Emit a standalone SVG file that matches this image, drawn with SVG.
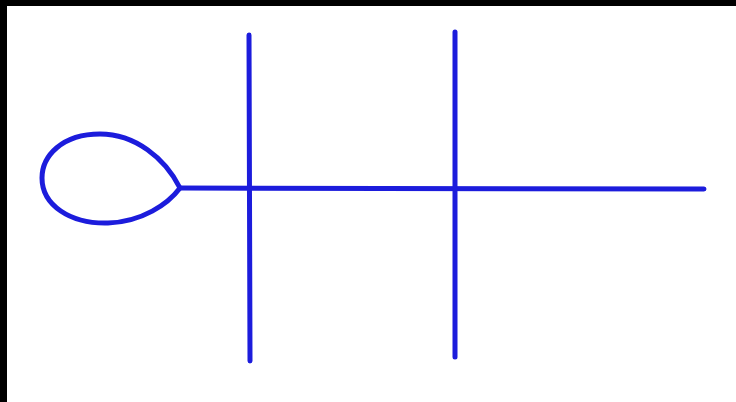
<svg xmlns="http://www.w3.org/2000/svg" width="736" height="402" viewBox="0 0 736 402">
<style>
.s{fill:none;stroke:#1c1cdc;stroke-width:5;stroke-linecap:round;stroke-linejoin:round}
</style>
<rect x="0" y="0" width="736" height="402" fill="#ffffff"/>
<rect x="0" y="0" width="736" height="6" fill="#000000"/>
<rect x="0" y="0" width="7" height="402" fill="#000000"/>
<g id="loop">
<path class="s" d="M180,188 C165,158 135,134 100,134 C62,134 42,156 42,178 C42,205 70,224 108,223 C142,222 168,204 180,188 Z"/>
</g>
<g id="connectors">
<path class="s" d="M180,188 L704,189"/>
<path class="s" d="M249,35 L250,361"/>
<path class="s" d="M455,32 L455,357"/>
</g>
</svg>
